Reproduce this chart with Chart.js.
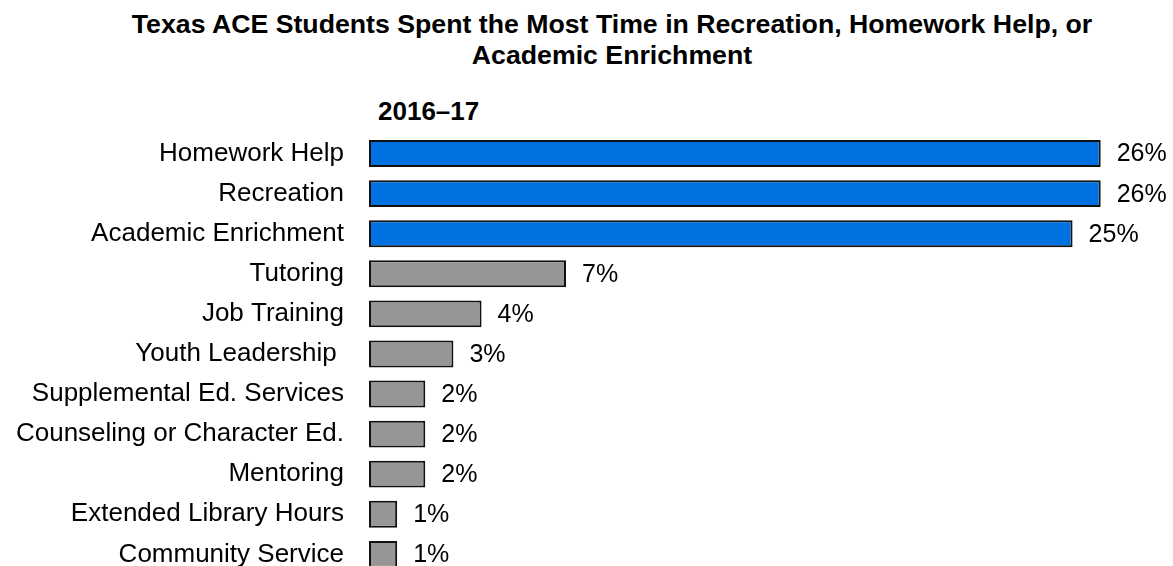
<!DOCTYPE html>
<html>
<head>
<meta charset="utf-8">
<script src="https://cdn.jsdelivr.net/npm/chart.js@4.4.1/dist/chart.umd.min.js"></script>
<style>
  html, body { margin: 0; padding: 0; background: #fff; overflow: hidden; }
  body { width: 1173px; height: 566px; position: relative; font-family: 'Liberation Sans', Arial, sans-serif; }
  #title { position: absolute; left: 51px; top: 9px; width: 1122px; text-align: center;
           font-weight: bold; font-size: 26.7px; line-height: 31px; color: #000; }
  #subtitle { position: absolute; left: 378px; top: 98px; font-weight: bold; font-size: 26px;
              line-height: 26px; color: #000; }
  /* canvas runs past the bottom edge so the last row is clipped */
  #wrap { position: absolute; left: 0; top: 0; width: 1173px; height: 615px; }
</style>
</head>
<body>
<div id="title">Texas ACE Students Spent the Most Time in Recreation, Homework Help, or<br>Academic Enrichment</div>
<div id="subtitle">2016–17</div>
<div id="wrap"><canvas id="chart" width="1173" height="615"></canvas></div>
<script>
  var CATEGORIES = [
    'Homework Help', 'Recreation', 'Academic Enrichment', 'Tutoring', 'Job Training',
    'Youth Leadership ', 'Supplemental Ed. Services', 'Counseling or Character Ed.',
    'Mentoring', 'Extended Library Hours', 'Community Service'
  ];
  var PERCENTS = [26, 26, 25, 7, 4, 3, 2, 2, 2, 1, 1];
  var HIGHLIGHT = [true, true, true, false, false, false, false, false, false, false, false];

  var BLUE = '#0071E0';
  var GRAY = '#969696';
  var FONT = "'Liberation Sans', Arial, sans-serif";

  // percent labels to the right of each bar
  var valueLabels = {
    id: 'valueLabels',
    afterDatasetsDraw: function (chart) {
      var ctx = chart.ctx;
      var meta = chart.getDatasetMeta(0);
      ctx.save();
      ctx.font = '25px ' + FONT;
      ctx.fillStyle = '#000';
      ctx.textAlign = 'left';
      ctx.textBaseline = 'middle';
      meta.data.forEach(function (bar, i) {
        ctx.fillText(PERCENTS[i] + '%', bar.x + 16, bar.y + 1);
      });
      ctx.restore();
    }
  };

  new Chart(document.getElementById('chart'), {
    type: 'bar',
    data: {
      labels: CATEGORIES,
      datasets: [{
        data: PERCENTS,
        backgroundColor: HIGHLIGHT.map(function (h) { return h ? BLUE : GRAY; }),
        borderColor: '#111',
        borderWidth: 2,
        borderSkipped: false,
        barPercentage: 0.67,
        categoryPercentage: 1
      }]
    },
    options: {
      indexAxis: 'y',
      responsive: false,
      animation: false,
      layout: { padding: { top: 133.5, bottom: 10, left: 0, right: 16 } },
      plugins: { legend: { display: false }, tooltip: { enabled: false } },
      scales: {
        x: { min: 0, max: 28, display: false },
        y: {
          grid: { display: false, drawTicks: false },
          border: { display: false },
          ticks: { padding: 25, color: '#000', font: { family: FONT, size: 26 } },
          afterFit: function (scale) { scale.width = 369; }
        }
      }
    },
    plugins: [valueLabels]
  });
</script>
</body>
</html>
